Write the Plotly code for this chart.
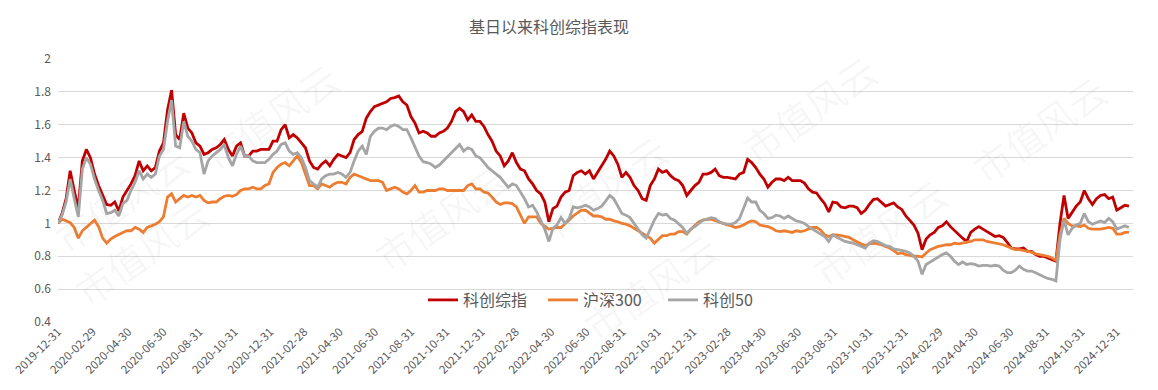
import pandas as pd
import plotly.graph_objects as go

# weekly sampling dates (every 7 days from base date)
dates = pd.date_range("2019-12-31", periods=265, freq="7D")

star_comp = [  # 科创综指
    1.00, 1.06, 1.15, 1.32, 1.20, 1.09, 1.38, 1.45, 1.40, 1.30, 1.23, 1.17, 1.115, 1.11, 1.13, 1.075,
    1.16, 1.20, 1.24, 1.29, 1.38, 1.32, 1.35, 1.32, 1.34, 1.44, 1.49, 1.69, 1.81, 1.54, 1.51, 1.67,
    1.58, 1.55, 1.49, 1.47, 1.42, 1.43, 1.45, 1.46, 1.48, 1.51, 1.45, 1.41, 1.47,
    1.49, 1.41, 1.41, 1.44, 1.44, 1.45, 1.45, 1.45, 1.50, 1.50, 1.57, 1.60, 1.52, 1.54, 1.52, 1.49,
    1.46, 1.38, 1.34, 1.33, 1.36, 1.38, 1.35, 1.39, 1.42, 1.41, 1.40, 1.43, 1.51, 1.54, 1.56, 1.64,
    1.68, 1.71, 1.72, 1.73, 1.74, 1.76, 1.765, 1.775, 1.74, 1.72, 1.65, 1.61, 1.55,
    1.56, 1.55, 1.53, 1.53, 1.55, 1.56, 1.58, 1.62, 1.68, 1.70, 1.68, 1.63, 1.66, 1.62, 1.62, 1.59,
    1.54, 1.50, 1.44, 1.41, 1.35, 1.38, 1.43, 1.37, 1.33, 1.32, 1.27, 1.24, 1.20, 1.18, 1.13, 1.01,
    1.09, 1.105, 1.16, 1.19, 1.20, 1.29, 1.31, 1.32, 1.30, 1.32, 1.27, 1.31,
    1.35, 1.39, 1.44, 1.41, 1.36, 1.28, 1.31, 1.28, 1.23, 1.20, 1.15, 1.14, 1.23, 1.27, 1.33, 1.31,
    1.32, 1.29, 1.27, 1.26, 1.23, 1.17, 1.20, 1.23, 1.25, 1.30, 1.30, 1.31, 1.33, 1.29, 1.28, 1.28,
    1.275, 1.27, 1.30, 1.31, 1.39, 1.37, 1.34, 1.30, 1.27, 1.22, 1.25, 1.27,
    1.27, 1.26, 1.28, 1.26, 1.26, 1.26, 1.245, 1.21, 1.19, 1.185, 1.15, 1.12, 1.07, 1.13, 1.125, 1.10,
    1.095, 1.105, 1.105, 1.095, 1.06, 1.08, 1.115, 1.145, 1.15, 1.13, 1.105, 1.115, 1.125, 1.10, 1.085,
    1.045, 1.02, 0.99, 0.94, 0.84, 0.905, 0.93, 0.945, 0.975, 0.985, 1.01, 0.98, 0.955, 0.935,
    0.91, 0.89, 0.945, 0.965, 0.98, 0.965, 0.95, 0.935, 0.92, 0.925, 0.915, 0.885, 0.85, 0.845, 0.845,
    0.85, 0.83, 0.83, 0.81, 0.80, 0.80, 0.79, 0.78, 0.77, 1.00, 1.17, 1.03, 1.07, 1.105, 1.13, 1.20,
    1.15, 1.115, 1.15, 1.17, 1.175, 1.15, 1.16, 1.08, 1.095, 1.11, 1.105,
]

hs300 = [  # 沪深300
    1.00, 1.025, 1.015, 1.005, 0.975, 0.91, 0.955, 0.975, 0.995, 1.02, 0.98, 0.91, 0.88, 0.905, 0.92, 0.935,
    0.945, 0.955, 0.955, 0.975, 0.965, 0.945, 0.975, 0.985, 0.995, 1.01, 1.04, 1.16, 1.18, 1.13, 1.15, 1.17,
    1.16, 1.17, 1.16, 1.17, 1.14, 1.125, 1.13, 1.13, 1.15, 1.165, 1.17, 1.165, 1.175,
    1.20, 1.21, 1.21, 1.22, 1.21, 1.21, 1.23, 1.24, 1.31, 1.34, 1.36, 1.37, 1.35, 1.38, 1.41, 1.37,
    1.30, 1.23, 1.23, 1.21, 1.24, 1.23, 1.22, 1.24, 1.25, 1.25, 1.24, 1.28, 1.30, 1.29, 1.28, 1.27,
    1.26, 1.26, 1.26, 1.25, 1.20, 1.21, 1.22, 1.21, 1.19, 1.18, 1.20, 1.23, 1.19,
    1.19, 1.20, 1.20, 1.20, 1.21, 1.21, 1.20, 1.20, 1.20, 1.20, 1.20, 1.23, 1.24, 1.21, 1.21, 1.19,
    1.185, 1.16, 1.13, 1.115, 1.125, 1.125, 1.12, 1.10, 1.05, 1.00, 1.04, 1.04, 1.04, 1.00, 0.98, 0.965,
    0.97, 0.975, 0.975, 0.995, 1.02, 1.045, 1.065, 1.08, 1.08, 1.06, 1.045, 1.045,
    1.04, 1.025, 1.025, 1.015, 1.01, 1.00, 0.995, 0.985, 0.97, 0.955, 0.94, 0.925, 0.91, 0.88, 0.905, 0.925,
    0.925, 0.935, 0.935, 0.95, 0.95, 0.935, 0.965, 0.985, 1.01, 1.02, 1.025, 1.025, 1.015, 1.005, 1.00, 0.99,
    0.985, 0.975, 0.98, 0.99, 1.005, 1.015, 1.01, 0.99, 0.985, 0.98, 0.97, 0.955,
    0.95, 0.955, 0.95, 0.945, 0.955, 0.95, 0.955, 0.965, 0.975, 0.975, 0.96, 0.93, 0.92, 0.93, 0.93, 0.925,
    0.92, 0.915, 0.90, 0.885, 0.875, 0.865, 0.875, 0.88, 0.875, 0.87, 0.86, 0.85, 0.835, 0.815, 0.82,
    0.81, 0.805, 0.80, 0.80, 0.795, 0.82, 0.84, 0.85, 0.86, 0.865, 0.87, 0.87, 0.88, 0.875,
    0.88, 0.885, 0.89, 0.90, 0.90, 0.90, 0.89, 0.885, 0.88, 0.875, 0.87, 0.86, 0.85, 0.84, 0.84,
    0.835, 0.83, 0.825, 0.815, 0.81, 0.805, 0.80, 0.79, 0.775, 0.93, 1.03, 1.00, 0.985, 0.985, 0.98, 0.99,
    0.97, 0.965, 0.965, 0.965, 0.97, 0.975, 0.97, 0.935, 0.935, 0.945, 0.945,
]

star50 = [  # 科创50
    1.00, 1.05, 1.13, 1.27, 1.15, 1.04, 1.33, 1.40, 1.36, 1.27, 1.20, 1.14, 1.06, 1.065, 1.08, 1.045,
    1.12, 1.14, 1.20, 1.25, 1.32, 1.27, 1.30, 1.28, 1.30, 1.41, 1.45, 1.62, 1.75, 1.47, 1.46, 1.62,
    1.53, 1.50, 1.45, 1.43, 1.30, 1.38, 1.41, 1.43, 1.45, 1.48, 1.40, 1.35, 1.42,
    1.47, 1.41, 1.41, 1.38, 1.37, 1.37, 1.37, 1.39, 1.42, 1.44, 1.48, 1.49, 1.44, 1.42, 1.43, 1.40,
    1.34, 1.26, 1.24, 1.22, 1.27, 1.29, 1.30, 1.30, 1.31, 1.30, 1.28, 1.31, 1.38, 1.44, 1.47, 1.42,
    1.53, 1.56, 1.58, 1.58, 1.57, 1.59, 1.60, 1.59, 1.57, 1.57, 1.52, 1.47, 1.41,
    1.375, 1.37, 1.36, 1.34, 1.355, 1.38, 1.40, 1.43, 1.45, 1.48, 1.44, 1.46, 1.45, 1.41, 1.40, 1.37,
    1.34, 1.32, 1.30, 1.28, 1.25, 1.22, 1.24, 1.23, 1.19, 1.15, 1.10, 1.11, 1.07, 1.02, 0.965, 0.89,
    0.97, 0.99, 1.035, 1.00, 1.03, 1.10, 1.095, 1.10, 1.11, 1.10, 1.08, 1.09,
    1.105, 1.135, 1.17, 1.15, 1.105, 1.06, 1.05, 1.035, 1.00, 0.965, 0.93, 0.91, 0.97, 1.02, 1.06, 1.05,
    1.055, 1.03, 1.02, 1.00, 0.975, 0.94, 0.965, 0.98, 1.00, 1.02, 1.025, 1.035, 1.03, 1.01, 1.00, 0.995,
    0.995, 1.005, 1.03, 1.09, 1.155, 1.13, 1.13, 1.08, 1.06, 1.03, 1.035, 1.05,
    1.045, 1.03, 1.045, 1.03, 1.015, 1.01, 1.00, 0.98, 0.965, 0.955, 0.94, 0.92, 0.89, 0.93, 0.915, 0.90,
    0.89, 0.885, 0.88, 0.87, 0.86, 0.85, 0.88, 0.895, 0.89, 0.875, 0.865, 0.86, 0.845, 0.84, 0.835,
    0.83, 0.82, 0.80, 0.77, 0.69, 0.75, 0.765, 0.78, 0.80, 0.81, 0.82, 0.80, 0.77, 0.75,
    0.765, 0.75, 0.755, 0.75, 0.74, 0.745, 0.745, 0.74, 0.745, 0.74, 0.715, 0.70, 0.70, 0.715, 0.74,
    0.72, 0.71, 0.71, 0.70, 0.685, 0.675, 0.665, 0.66, 0.65, 0.90, 1.02, 0.93, 0.97, 0.99, 1.00, 1.06,
    1.01, 0.995, 1.005, 1.015, 1.005, 1.03, 1.01, 0.965, 0.975, 0.985, 0.975,
]

x_ticks = [
    "2019-12-31", "2020-02-29", "2020-04-30", "2020-06-30", "2020-08-31", "2020-10-31",
    "2020-12-31", "2021-02-28", "2021-04-30", "2021-06-30", "2021-08-31", "2021-10-31",
    "2021-12-31", "2022-02-28", "2022-04-30", "2022-06-30", "2022-08-31", "2022-10-31",
    "2022-12-31", "2023-02-28", "2023-04-30", "2023-06-30", "2023-08-31", "2023-10-31",
    "2023-12-31", "2024-02-29", "2024-04-30", "2024-06-30", "2024-08-31", "2024-10-31",
    "2024-12-31",
]
y_ticks = [0.4, 0.6, 0.8, 1.0, 1.2, 1.4, 1.6, 1.8, 2.0]
y_labels = ["0.4", "0.6", "0.8", "1", "1.2", "1.4", "1.6", "1.8", "2"]

series = [
    ("科创综指", star_comp, "#C00000"),
    ("沪深300", hs300, "#ED7D31"),
    ("科创50", star50, "#A5A5A5"),
]

FONT = "Noto Sans CJK SC, sans-serif"
GREY_TXT = "#595959"
W, H = 1158, 390
ML, MR, MT, MB = 58, 25, 59, 68
PW, PH = W - ML - MR, H - MT - MB

fig = go.Figure()
for name, vals, color in series:
    fig.add_trace(go.Scatter(
        x=dates, y=vals, name=name, mode="lines",
        line=dict(color=color, width=2.8),
    ))

# faint watermark text (pixel positions in the page)
wm = [(190, 48), (600, 120), (890, 40), (1120, 60),
      (60, 320), (360, 285), (650, 355), (960, 300), (40, 130)]
for wx, wy in wm:
    fig.add_annotation(
        text="市值风云", x=(wx - ML) / PW, y=(H - MB - wy) / PH,
        xref="paper", yref="paper", showarrow=False, textangle=-35,
        font=dict(size=38, color="rgba(120,120,120,0.06)", family=FONT),
    )

fig.update_layout(
    width=W, height=H, autosize=False,
    margin=dict(l=ML, r=MR, t=MT, b=MB),
    paper_bgcolor="white", plot_bgcolor="white",
    font=dict(family=FONT, color=GREY_TXT),
    title=dict(text="基日以来科创综指表现", x=549 / W, xanchor="center",
               y=1 - 27 / H, yanchor="middle", xref="container", yref="container",
               font=dict(size=16, color=GREY_TXT, family=FONT)),
    showlegend=True,
    legend=dict(orientation="h", x=(423 - ML) / PW, xanchor="left",
                y=(H - MB - 300) / PH, yanchor="middle",
                bgcolor="rgba(0,0,0,0)", font=dict(size=16, color=GREY_TXT, family=FONT),
                entrywidth=75, entrywidthmode="pixels"),
    xaxis=dict(type="date", range=["2019-12-31", "2025-01-28"],
               tickvals=x_ticks, ticktext=x_ticks, tickangle=-45,
               showgrid=False, zeroline=False, showline=False, ticks="",
               tickfont=dict(size=11.5, color=GREY_TXT, family=FONT)),
    yaxis=dict(range=[0.4, 2.0], tickvals=y_ticks, ticktext=y_labels,
               showgrid=True, gridcolor="#D9D9D9", gridwidth=1,
               zeroline=False, showline=False, ticks="", ticklabelstandoff=6,
               tickfont=dict(size=12, color=GREY_TXT, family=FONT)),
)

fig.write_html("out.html", config={"displayModeBar": False},
               post_script="document.body.style.margin='0';")
